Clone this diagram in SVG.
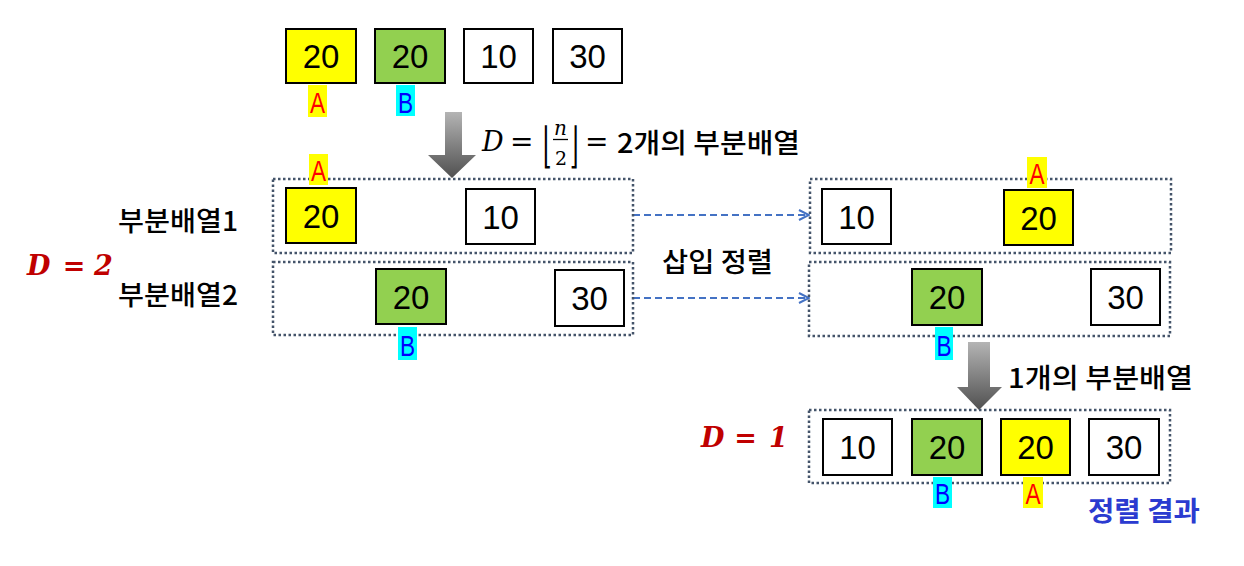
<svg xmlns="http://www.w3.org/2000/svg" width="1244" height="566" viewBox="0 0 1244 566">
<style>
.box{stroke:#000;stroke-width:2}
.w{fill:#fff}.y{fill:#ffff00}.g{fill:#92d050}
.num{font-family:"Liberation Sans",Arial,sans-serif;font-size:33px;fill:#000;text-anchor:middle}
.grp{fill:none;stroke:#44546a;stroke-width:2.5;stroke-dasharray:2.5 2.5}
.lbl{font-family:"Liberation Sans",Arial,sans-serif;font-size:29px;text-anchor:middle}
.ko{font-family:"Noto Sans CJK KR",sans-serif;font-weight:500;font-size:27px}
.math{font-family:"DejaVu Serif","Liberation Serif",serif;fill:#000}
.big{font-family:"DejaVu Serif","Liberation Serif",serif;font-weight:bold;font-style:italic;fill:#c00000;font-size:27px}
.dash{fill:none;stroke:#4472c4;stroke-width:2;stroke-dasharray:7 4}
</style>
<defs>
<linearGradient id="gr" x1="0" y1="0" x2="0" y2="1">
<stop offset="0" stop-color="#b4b4b4"/>
<stop offset="1" stop-color="#505050"/>
</linearGradient>
<marker id="ah" viewBox="0 0 12 12" refX="11" refY="6" markerWidth="12" markerHeight="12" markerUnits="userSpaceOnUse" orient="auto">
<path d="M1,1 L11,6 L1,11" fill="none" stroke="#4472c4" stroke-width="2"/>
</marker>
</defs>

<!-- top row -->
<g id="top-20a"><rect class="box y" x="286" y="29" width="70" height="54"/><text class="num" x="321" y="68">20</text></g>
<g id="top-20b"><rect class="box g" x="375" y="29" width="70" height="54"/><text class="num" x="410" y="68">20</text></g>
<g id="top-10"><rect class="box w" x="464" y="29" width="69" height="54"/><text class="num" x="498.5" y="68">10</text></g>
<g id="top-30"><rect class="box w" x="553" y="29" width="69" height="54"/><text class="num" x="587.5" y="68">30</text></g>
<g id="top-A"><rect fill="#ffff00" x="308" y="85" width="19" height="32"/><text class="lbl" fill="#ff0000" transform="translate(317.5,113) scale(0.78,1)">A</text></g>
<g id="top-B"><rect fill="#00ffff" x="396" y="85" width="19" height="31"/><text class="lbl" fill="#0000ff" transform="translate(405.5,113) scale(0.78,1)">B</text></g>

<!-- formula -->
<g id="formula">
<text class="math" font-style="italic" font-size="27" x="482" y="151">D</text>
<text class="math" font-size="28" x="510" y="151">=</text>
<text class="math" font-size="22" transform="translate(543,162) scale(1,2.2)">⌊</text>
<text class="math" font-style="italic" font-size="20" x="560.5" y="135" text-anchor="middle">n</text>
<line x1="553" y1="139.5" x2="568" y2="139.5" stroke="#000" stroke-width="1.3"/>
<text class="math" font-size="19" x="561" y="165" text-anchor="middle">2</text>
<text class="math" font-size="22" transform="translate(570,162) scale(1,2.2)">⌋</text>
<text class="math" font-size="28" x="585" y="151">=</text>
<text class="ko" fill="#000" x="617" y="153" textLength="183" lengthAdjust="spacingAndGlyphs">2개의 부분배열</text>
</g>

<!-- arrows -->
<g id="connectors">
<path d="M445,112 H462 V155 H476 L452,178 L428,155 H445 Z" fill="url(#gr)"/>
<path d="M968,342 H990 V387 H1002 L979,410 L957,387 H968 Z" fill="url(#gr)"/>
<line class="dash" x1="633" y1="215" x2="809" y2="215" marker-end="url(#ah)"/>
<line class="dash" x1="633" y1="298" x2="809" y2="298" marker-end="url(#ah)"/>
</g>

<!-- left groups -->
<g id="left-sub1">
<rect class="grp" x="273" y="179" width="360" height="74"/>
<rect class="box y" x="286" y="188" width="70" height="55"/><text class="num" x="321" y="228">20</text>
<rect class="box w" x="466" y="189" width="69" height="55"/><text class="num" x="500.5" y="229">10</text>
</g>
<g id="left-sub2">
<rect class="grp" x="273" y="262" width="360" height="73"/>
<rect class="box g" x="376" y="269" width="70" height="55"/><text class="num" x="411" y="309">20</text>
<rect class="box w" x="555" y="270" width="69" height="56"/><text class="num" x="589.5" y="310">30</text>
</g>
<g id="left-A"><rect fill="#ffff00" x="309" y="154" width="19" height="31"/><text class="lbl" fill="#ff0000" transform="translate(318.5,181) scale(0.78,1)">A</text></g>
<g id="left-B"><rect fill="#00ffff" x="398" y="327" width="19" height="33"/><text class="lbl" fill="#0000ff" transform="translate(407.5,356) scale(0.78,1)">B</text></g>
<g id="lbl-sub1"><text class="ko" fill="#000" x="118" y="231" textLength="120" lengthAdjust="spacingAndGlyphs">부분배열1</text></g>
<g id="lbl-sub2"><text class="ko" fill="#000" x="118" y="305" textLength="120" lengthAdjust="spacingAndGlyphs">부분배열2</text></g>
<g id="d2"><text class="big" x="27" y="275">D</text><text class="big" font-style="normal" x="74" y="275" text-anchor="middle">=</text><text class="big" x="94" y="275">2</text></g>

<g id="insert-sort"><text class="ko" fill="#000" x="662" y="272" textLength="111" lengthAdjust="spacingAndGlyphs">삽입 정렬</text></g>

<!-- right groups -->
<g id="right-sub1">
<rect class="grp" x="810" y="179" width="361" height="74"/>
<rect class="box w" x="822" y="189" width="69" height="55"/><text class="num" x="856.5" y="229">10</text>
<rect class="box y" x="1004" y="190" width="69" height="55"/><text class="num" x="1038.5" y="230">20</text>
</g>
<g id="right-sub2">
<rect class="grp" x="809" y="262" width="361" height="74"/>
<rect class="box g" x="912" y="269" width="70" height="56"/><text class="num" x="947" y="309">20</text>
<rect class="box w" x="1091" y="269" width="69" height="56"/><text class="num" x="1125.5" y="309">30</text>
</g>
<g id="right-A"><rect fill="#ffff00" x="1027" y="157" width="20" height="31"/><text class="lbl" fill="#ff0000" transform="translate(1037,184) scale(0.78,1)">A</text></g>
<g id="right-B"><rect fill="#00ffff" x="935" y="327" width="18" height="33"/><text class="lbl" fill="#0000ff" transform="translate(944,356) scale(0.78,1)">B</text></g>

<g id="one-sub"><text class="ko" fill="#000" x="1008" y="388" textLength="185" lengthAdjust="spacingAndGlyphs">1개의 부분배열</text></g>

<!-- bottom result -->
<g id="result">
<rect class="grp" x="809" y="410" width="361" height="73"/>
<rect class="box w" x="823" y="419" width="69" height="56"/><text class="num" x="857.5" y="459">10</text>
<rect class="box g" x="912" y="419" width="70" height="56"/><text class="num" x="947" y="459">20</text>
<rect class="box y" x="1001" y="419" width="69" height="56"/><text class="num" x="1035.5" y="459">20</text>
<rect class="box w" x="1089" y="419" width="70" height="56"/><text class="num" x="1124" y="459">30</text>
</g>
<g id="bot-B"><rect fill="#00ffff" x="933" y="477" width="19" height="31"/><text class="lbl" fill="#0000ff" transform="translate(942.5,504) scale(0.78,1)">B</text></g>
<g id="bot-A"><rect fill="#ffff00" x="1023" y="477" width="20" height="31"/><text class="lbl" fill="#ff0000" transform="translate(1033,504) scale(0.78,1)">A</text></g>
<g id="d1"><text class="big" x="701" y="447">D</text><text class="big" font-style="normal" x="745.5" y="447" text-anchor="middle">=</text><text class="big" x="769" y="447">1</text></g>
<g id="sorted"><text class="ko" style="fill:#2b3bd0;font-weight:bold" x="1088" y="521" textLength="112" lengthAdjust="spacingAndGlyphs">정렬 결과</text></g>
</svg>
